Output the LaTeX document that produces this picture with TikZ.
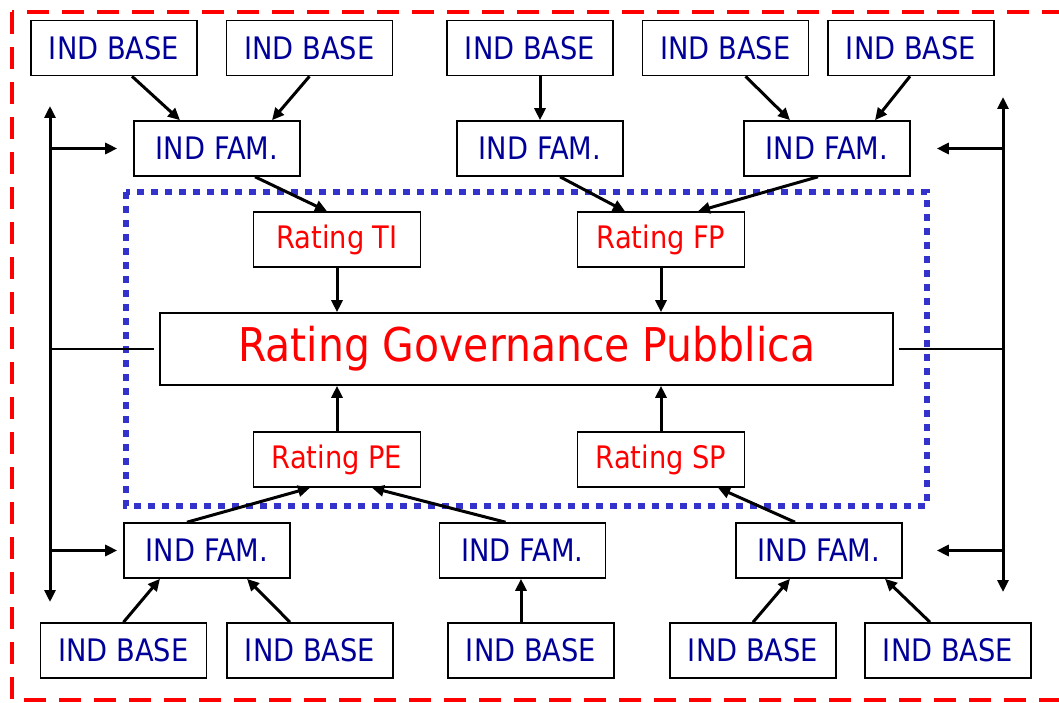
\documentclass[tikz,border=0pt]{standalone}
\usepackage{fontspec}
\setmainfont{DejaVu Sans}[FakeStretch=0.88]
\usepackage{xcolor}
\usepackage{tikz}
\usetikzlibrary{arrows.meta}
\definecolor{indblue}{RGB}{0,0,153}
\definecolor{dotblue}{RGB}{51,51,204}
\begin{document}
\begin{tikzpicture}[x=1pt,y=-1pt,
    indbox/.style={draw,line width=1.6pt,minimum width=166pt,minimum height=55pt,inner sep=0pt,
      text=indblue,font=\fontsize{31}{32}\selectfont},
    ratbox/.style={draw,line width=1.6pt,minimum width=167pt,minimum height=55pt,inner sep=0pt,
      text=red,font=\fontsize{31}{32}\selectfont},
    tip/.tip={Triangle[length=12pt,width=11pt]},
    arr/.style={-tip,line width=3pt},
    thin/.style={line width=1.2pt}]
    \useasboundingbox (0,0) rectangle (1059,703);
    \draw[red,line width=4pt,dash pattern=on 22pt off 13pt] (12,12) rectangle (1075,700);
    \draw[dotblue,line width=6pt,dash pattern=on 7pt off 7pt] (126,192) rectangle (927,506);
    \node[indbox] (b1) at (114,48) {IND BASE};
    \node[indbox] (b2) at (309.5,48) {IND BASE};
    \node[indbox] (b3) at (530,48) {IND BASE};
    \node[indbox] (b4) at (725.5,48) {IND BASE};
    \node[indbox] (b5) at (911,48) {IND BASE};
    \node[indbox] (f1) at (217,148.5) {IND FAM.};
    \node[indbox] (f2) at (540,148.5) {IND FAM.};
    \node[indbox] (f3) at (827,148.5) {IND FAM.};
    \node[ratbox] (ti) at (337,239.5) {Rating TI};
    \node[ratbox] (fp) at (661,239.5) {Rating FP};
    \node[draw,line width=1.6pt,minimum width=733pt,minimum height=72pt,inner sep=0pt,
      text=red,font=\fontsize{46.5}{48}\selectfont] (rgp) at (526.5,349) {Rating Governance Pubblica};
    \node[ratbox] (pe) at (337,459.5) {Rating PE};
    \node[ratbox] (sp) at (661,459.5) {Rating SP};
    \node[indbox] (g1) at (207,550.5) {IND FAM.};
    \node[indbox] (g2) at (522.5,550.5) {IND FAM.};
    \node[indbox] (g3) at (819,550.5) {IND FAM.};
    \node[indbox] (c1) at (123.5,650.5) {IND BASE};
    \node[indbox] (c2) at (310,650.5) {IND BASE};
    \node[indbox] (c3) at (531,650.5) {IND BASE};
    \node[indbox] (c4) at (753,650.5) {IND BASE};
    \node[indbox] (c5) at (948,650.5) {IND BASE};
    \draw[arr] ([xshift=18pt]b1.south) -- ([xshift=-37pt]f1.north);
    \draw[arr] (b2.south) -- ([xshift=55pt]f1.north);
    \draw[arr] ([xshift=10pt]b3.south) -- (f2.north);
    \draw[arr] ([xshift=20pt]b4.south) -- ([xshift=-37pt]f3.north);
    \draw[arr] ([xshift=-1pt]b5.south) -- ([xshift=48pt]f3.north);
    \draw[arr] ([xshift=38pt]f1.south) -- ([xshift=-10pt]ti.north);
    \draw[arr] ([xshift=20pt]f2.south) -- ([xshift=-36pt]fp.north);
    \draw[arr] ([xshift=-9pt]f3.south) -- ([xshift=37pt]fp.north);
    \draw[arr] (ti.south) -- (ti.south |- rgp.north);
    \draw[arr] (fp.south) -- (fp.south |- rgp.north);
    \draw[arr] (pe.north) -- (pe.north |- rgp.south);
    \draw[arr] (sp.north) -- (sp.north |- rgp.south);
    \draw[arr] ([xshift=-20pt]g1.north) -- ([xshift=-27pt]pe.south);
    \draw[arr] ([xshift=-17pt]g2.north) -- ([xshift=35pt]pe.south);
    \draw[arr] ([xshift=-24pt]g3.north) -- ([xshift=57pt]sp.south);
    \draw[arr] (c1.north) -- ([xshift=-47pt]g1.south);
    \draw[arr] ([xshift=-20pt]c2.north) -- ([xshift=40pt]g1.south);
    \draw[arr] ([xshift=-10pt]c3.north) -- ([xshift=-1.5pt]g2.south);
    \draw[arr] (c4.north) -- ([xshift=-29pt]g3.south);
    \draw[arr] ([xshift=-18pt]c5.north) -- ([xshift=66pt]g3.south);
    \coordinate (lt) at (50,106);
    \coordinate (lb) at (50,602);
    \coordinate (rt) at (1003,97);
    \coordinate (rb) at (1003,592);
    \draw[tip-tip,line width=3pt] (lt) -- (lb);
    \draw[tip-tip,line width=3pt] (rt) -- (rb);
    \draw[arr,shorten >=16pt] (lt |- f1) -- (f1.west);
    \draw[arr,shorten >=6pt] (lt |- g1) -- (g1.west);
    \draw[thin,shorten >=5pt] (lt |- rgp) -- (rgp.west);
    \draw[arr,shorten >=26pt] (rt |- f3) -- (f3.east);
    \draw[arr,shorten >=34pt] (rt |- g3) -- (g3.east);
    \draw[thin,shorten >=5pt] (rt |- rgp) -- (rgp.east);
\end{tikzpicture}
\end{document}
